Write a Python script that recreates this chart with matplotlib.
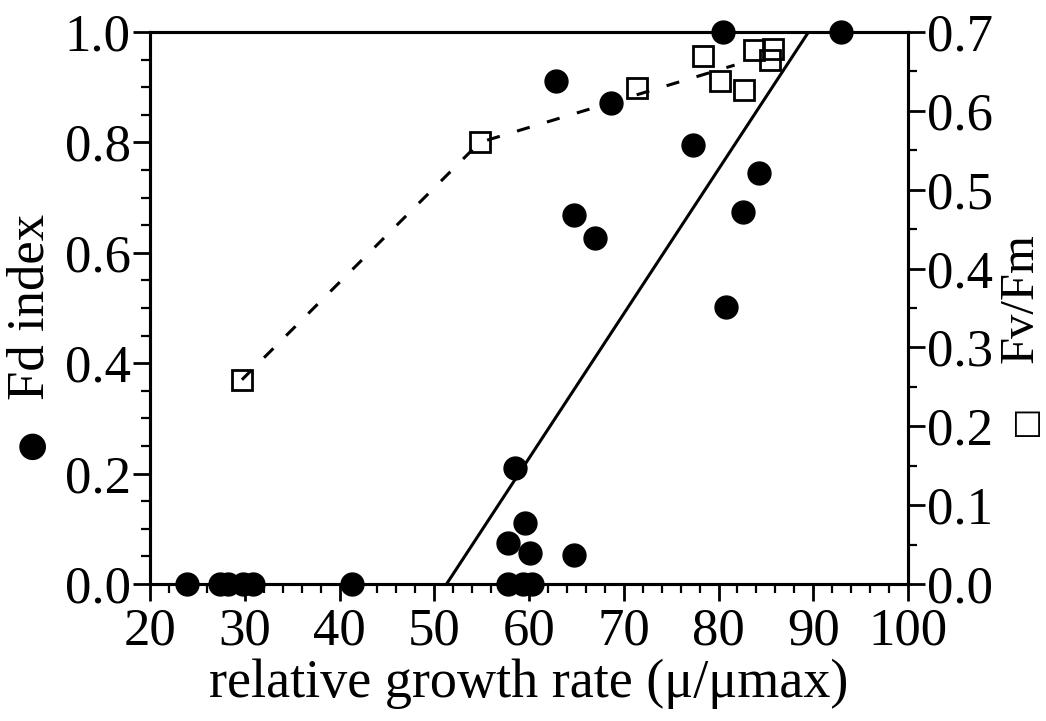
import matplotlib
matplotlib.use("Agg")
import matplotlib.pyplot as plt
from matplotlib.ticker import MultipleLocator, FormatStrFormatter

# Fd index (filled circles, left axis)
fd_x = [23.9, 27.4, 28.2, 29.8, 30.9, 41.3, 57.8, 59.4, 60.3,
        57.8, 59.6, 60.1, 64.7, 58.5, 62.9, 64.7, 67.0, 68.7,
        77.3, 80.5, 80.8, 82.6, 84.3, 92.9]
fd_y = [0, 0, 0, 0, 0, 0, 0, 0, 0,
        0.074, 0.11, 0.056, 0.053, 0.21, 0.911, 0.668, 0.626, 0.871,
        0.795, 1.0, 0.502, 0.674, 0.744, 1.0]

# Fv/Fm (open squares, right axis)
fv_x = [29.7, 54.8, 71.4, 78.4, 80.2, 82.7, 83.7, 85.8, 85.4]
fv_y = [0.259, 0.56, 0.629, 0.669, 0.638, 0.627, 0.677, 0.679, 0.665]

# fitted lines
fd_fit_x = [51.3, 89.5]
fd_fit_y = [0.0, 1.0]
fv_fit_x = [29.7, 54.8, 81.7]
fv_fit_y = [0.259, 0.56, 0.658]

FONT = "Liberation Serif"
FS = 38

plt.rcParams["font.family"] = [FONT, "DejaVu Sans"]
plt.rcParams["lines.scale_dashes"] = False

fig = plt.figure(figsize=(10.46, 7.21), dpi=100)
ax = fig.add_axes([150 / 1046, 137 / 721, 758 / 1046, 552 / 721])
ax2 = ax.twinx()

# left axis: Fd index
ax.plot(fd_fit_x, fd_fit_y, color="black", lw=2.2, solid_capstyle="butt")
ax.plot(fd_x, fd_y, "o", color="black", ms=16.5, clip_on=False, zorder=5)
ax.set_xlim(20, 100)
ax.set_ylim(0, 1.0)
ax.xaxis.set_major_locator(MultipleLocator(10))
ax.xaxis.set_minor_locator(MultipleLocator(2))
ax.yaxis.set_major_locator(MultipleLocator(0.2))
ax.yaxis.set_minor_locator(MultipleLocator(0.05))
ax.yaxis.set_major_formatter(FormatStrFormatter("%.1f"))

# right axis: Fv/Fm
ax2.plot(fv_fit_x, fv_fit_y, color="black", lw=2.2, dashes=(9.5, 13))
ax2.plot(fv_x, fv_y, "s", mfc="none", mec="black", mew=2.0, ms=15,
         clip_on=False, zorder=5)
ax2.set_ylim(0, 0.7)
ax2.yaxis.set_major_locator(MultipleLocator(0.1))
ax2.yaxis.set_minor_locator(MultipleLocator(0.05))
ax2.yaxis.set_major_formatter(FormatStrFormatter("%.1f"))

for a in (ax, ax2):
    for sp in a.spines.values():
        sp.set_linewidth(2.2)
    a.tick_params(which="major", length=12, width=2.0, labelsize=FS, pad=2)
    a.tick_params(which="minor", length=6.5, width=1.6)
ax.tick_params(axis="both", which="both", direction="out", top=False, right=False)
ax.tick_params(axis="x", which="major", pad=5)
ax2.tick_params(axis="y", which="both", direction="out")

ax.set_xlabel("relative growth rate (\u03bc/\u03bcmax)", fontsize=39, labelpad=2)

# y-axis labels with symbol keys
fig.text(31 / 1046, 1 - 307 / 721, "Fd index", rotation=90, fontsize=FS,
         ha="center", va="center")
fig.text(31 / 1046, 1 - 445 / 721, "\u25cf", rotation=90, fontsize=25,
         family="DejaVu Sans", ha="center", va="center")
fig.text(1021 / 1046, 1 - 298 / 721, "Fv/Fm", rotation=90, fontsize=35,
         ha="center", va="center")
fig.text(1024 / 1046, 1 - 420 / 721, "\u25a1", rotation=90, fontsize=24,
         family="DejaVu Sans", ha="center", va="center")

fig.savefig("out.png", dpi=100)
